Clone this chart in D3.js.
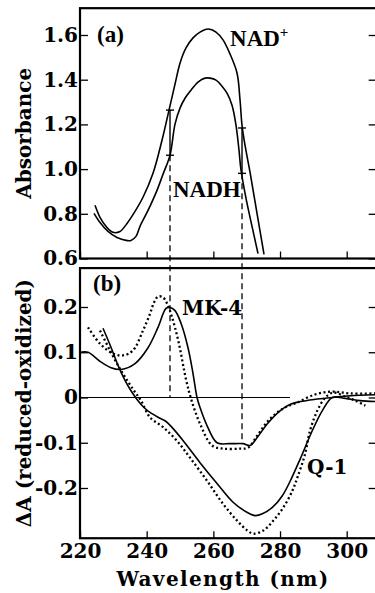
<!DOCTYPE html>
<html><head><meta charset="utf-8">
<script src="https://cdn.jsdelivr.net/npm/d3@7"></script>
<style>body{margin:0;background:#fff}svg{display:block}</style>
</head><body>
<script>
// ---------- data ----------
const nadPlusWl  = [224.5,226.0,227.8,229.9,232.0,234.1,236.5,238.9,241.9,244.6,246.7,248.5,250.0,251.8,253.9,256.0,258.4,260.8,262.9,265.0,267.1,268.0,268.6,269.5,271.0,273.1,275.2];
const nadPlusAbs = [0.838,0.784,0.744,0.717,0.721,0.757,0.811,0.874,0.981,1.129,1.264,1.380,1.474,1.542,1.587,1.613,1.627,1.613,1.578,1.515,1.430,1.309,1.196,1.107,0.986,0.802,0.618];
const nadhWl  = [224.2,226.0,228.4,231.1,233.8,235.3,236.8,238.0,240.4,243.1,244.9,247.0,248.5,250.0,251.5,253.3,255.4,257.5,259.0,260.8,262.6,264.1,265.6,266.8,267.7,268.3,269.8,271.6,273.4];
const nadhAbs = [0.802,0.761,0.721,0.694,0.681,0.681,0.699,0.744,0.815,0.905,0.977,1.062,1.201,1.273,1.317,1.353,1.389,1.407,1.407,1.398,1.371,1.340,1.286,1.196,1.084,0.995,0.869,0.744,0.622];

const mk4SolidWl = [220,222.4,226,229.3,232.3,236.5,240.4,243.4,245.8,247,248.5,250.3,252.4,253.9,255.1,256,258.1,261.1,265,268.9,271,273.2,276.2,280.1,283.1,286.1,290.6,295.7,301,308.6];
const mk4SolidDA = [0.10,0.10,0.08,0.066,0.062,0.075,0.11,0.155,0.197,0.199,0.192,0.164,0.11,0.053,0.0,-0.022,-0.062,-0.10,-0.102,-0.102,-0.106,-0.088,-0.058,-0.029,-0.015,-0.009,-0.004,0.0,0.004,0.006];
const mk4DotWl = [222.4,226,229.9,232.9,235.9,238.9,241,242.2,243.4,244.8,246.1,247.5,249.5,251.8,253.4,256,259.6,262.9,268,270.4,273.2,276.5,281,285.2,290.6,295.7,301,308.6];
const mk4DotDA = [0.155,0.119,0.097,0.093,0.104,0.148,0.185,0.210,0.223,0.222,0.208,0.18,0.125,0.04,-0.005,-0.058,-0.106,-0.113,-0.113,-0.111,-0.084,-0.051,-0.024,-0.011,0.007,0.013,0.009,0.009];
const q1SolidWl = [226.9,229.3,231.4,233.5,235.3,237.4,239.2,241,244,245.8,247.6,250.9,256,261.1,266,270.2,272.6,274.7,277.7,280.7,283.1,286.1,289.7,292.7,295.7,299.6,304,308.6];
const q1SolidDA = [0.153,0.111,0.071,0.038,0.015,-0.007,-0.022,-0.033,-0.046,-0.053,-0.066,-0.095,-0.144,-0.19,-0.232,-0.254,-0.261,-0.257,-0.243,-0.217,-0.184,-0.135,-0.073,-0.029,0,-0.002,-0.007,-0.009];
const q1DotWl = [226,229,231.4,233.8,236.2,238.3,241,245,249,253,258.1,262.9,267.1,270.2,272,275,278,281,283.7,285.2,287.5,289,291.2,293.6,296,299.6,302.6,305.6];
const q1DotDA = [0.148,0.104,0.071,0.042,0.015,-0.007,-0.044,-0.066,-0.095,-0.133,-0.184,-0.235,-0.272,-0.294,-0.301,-0.294,-0.272,-0.243,-0.206,-0.177,-0.125,-0.073,-0.029,0,0.011,0.002,-0.007,-0.018];

const xTicks = [220,240,260,280,300];
const xTickLabels = ["220","240","260","280","300"];
const yATicks = [0.6,0.8,1.0,1.2,1.4,1.6];
const yATickLabels = ["0.6","0.8","1.0","1.2","1.4","1.6"];
const yBTicks = [-0.2,-0.1,0,0.1,0.2];
const yBTickLabels = ["-0.2","-0.1","0","0.1","0.2"];
// marker wavelengths (NADH / NAD+ reference points) and their values
const markWl = [247, 268.6];
const markNadPlus = [1.264, 1.184];
const markNadh = [1.062, 0.981];
const markMk4 = [0, -0.102];
const zeroLineEnd = 283;

// ---------- layout ----------
const W = 375, H = 593;
const xMin = 220, xMax = 309;
const aTop = 1.72, aBot = 0.6;
const bTop = 0.286, bBot = -0.311;
const FONT = "'DejaVu Serif', serif";
const LFONT = "'Liberation Serif', 'Times New Roman', serif";

const svg = d3.select("body").append("svg").attr("width", W).attr("height", H);
const x = d3.scaleLinear().domain([220, 300]).range([80, 346.7]);
const yA = d3.scaleLinear().domain([0.6, 1.6]).range([258.5, 35]);
const yB = d3.scaleLinear().domain([-0.2, 0.2]).range([488, 307]);

function zip(a, b) { return a.map((d, i) => [d, b[i]]); }
const curve = d3.curveCatmullRom.alpha(0.5);

function panel(y, top, bot, ticks, labels, withXLabels) {
  const g = svg.append("g");
  const tf = d => labels[ticks.indexOf(d)];
  const ax = g.append("g").attr("transform", `translate(${x(xMin)},0)`)
    .call(d3.axisLeft(y).tickValues(ticks).tickSize(-8).tickPadding(2).tickFormat(tf));
  const ar = g.append("g").attr("transform", `translate(${x(xMax)},0)`)
    .call(d3.axisRight(y).tickValues(ticks).tickSize(-8).tickFormat(""));
  const ab = g.append("g").attr("transform", `translate(0,${y(bot)})`)
    .call(d3.axisBottom(x).tickValues(xTicks).tickSize(-7).tickPadding(6)
      .tickFormat(withXLabels ? (d => xTickLabels[xTicks.indexOf(d)]) : ""));
  [ax, ar, ab].forEach(a => {
    a.select(".domain").remove();
    a.selectAll("line").attr("stroke", "#000").attr("stroke-width", 1.3);
    a.selectAll("text").attr("font-family", FONT).attr("font-weight", "bold")
      .attr("font-size", 20).attr("fill", "#000");
  });
  g.append("rect").attr("x", x(xMin)).attr("y", y(top))
    .attr("width", x(xMax) - x(xMin)).attr("height", y(bot) - y(top))
    .attr("fill", "none").attr("stroke", "#000").attr("stroke-width", 2.2);
  return g;
}

const gA = panel(yA, aTop, aBot, yATicks, yATickLabels, false);
const gB = panel(yB, bTop, bBot, yBTicks, yBTickLabels, true);

// dashed reference lines spanning both panels
markWl.forEach((w, i) => {
  svg.append("line").attr("x1", x(w)).attr("x2", x(w))
    .attr("y1", yA(markNadh[i])).attr("y2", yB(markMk4[i]))
    .attr("stroke", "#000").attr("stroke-width", 1.3).attr("stroke-dasharray", "6,4");
  svg.append("line").attr("x1", x(w)).attr("x2", x(w))
    .attr("y1", yA(markNadPlus[i])).attr("y2", yA(markNadh[i]))
    .attr("stroke", "#000").attr("stroke-width", 1.4);
  [markNadPlus[i], markNadh[i]].forEach(v => {
    svg.append("line").attr("x1", x(w) - 4).attr("x2", x(w) + 4)
      .attr("y1", yA(v)).attr("y2", yA(v)).attr("stroke", "#000").attr("stroke-width", 1.4);
  });
});

// zero line in panel b
svg.append("line").attr("x1", x(xMin)).attr("x2", x(zeroLineEnd))
  .attr("y1", yB(0)).attr("y2", yB(0)).attr("stroke", "#000").attr("stroke-width", 1.1);

const lineA = d3.line().x(d => x(d[0])).y(d => yA(d[1])).curve(curve);
const lineB = d3.line().x(d => x(d[0])).y(d => yB(d[1])).curve(curve);

[[nadPlusWl, nadPlusAbs], [nadhWl, nadhAbs]].forEach(([w, v]) => {
  svg.append("path").attr("d", lineA(zip(w, v))).attr("fill", "none")
    .attr("stroke", "#000").attr("stroke-width", 1.6);
});
[[mk4SolidWl, mk4SolidDA, false], [q1SolidWl, q1SolidDA, false],
 [mk4DotWl, mk4DotDA, true], [q1DotWl, q1DotDA, true]].forEach(([w, v, dot]) => {
  const p = svg.append("path").attr("d", lineB(zip(w, v))).attr("fill", "none")
    .attr("stroke", "#000").attr("stroke-width", dot ? 2.3 : 1.6);
  if (dot) p.attr("stroke-dasharray", "2,2.6");
});

// labels
function label(txt, xx, yy, font, size) {
  return svg.append("text").attr("x", xx).attr("y", yy).attr("font-family", font)
    .attr("font-weight", "bold").attr("font-size", size).attr("fill", "#000").text(txt);
}
label("(a)", x(225.1), yA(1.569), LFONT, 23);
const nad = label("NAD", x(265), yA(1.551), LFONT, 23);
nad.append("tspan").attr("font-size", 15).attr("dy", -9).text("+");
label("NADH", x(247.9), yA(0.874), LFONT, 23);
label("(b)", x(223.9), yB(0.235), LFONT, 23);
label("MK-4", x(250.6), yB(0.182), FONT, 20);
label("Q-1", x(288.1), yB(-0.169), FONT, 20);

svg.append("text").attr("transform", `translate(31,${(yA(aTop) + yA(aBot)) / 2}) rotate(-90)`)
  .attr("text-anchor", "middle").attr("font-family", FONT).attr("font-weight", "bold")
  .attr("font-size", 20).text("Absorbance");
svg.append("text").attr("transform", `translate(31,${(yB(bTop) + yB(bBot)) / 2}) rotate(-90)`)
  .attr("text-anchor", "middle").attr("font-family", FONT).attr("font-weight", "bold")
  .attr("font-size", 20).text("ΔA (reduced-oxidized)");
svg.append("text").attr("x", 223).attr("y", 586)
  .attr("text-anchor", "middle").attr("font-family", FONT).attr("font-weight", "bold")
  .attr("letter-spacing", 1.4)
  .attr("font-size", 20).text("Wavelength (nm)");
</script>
</body></html>
